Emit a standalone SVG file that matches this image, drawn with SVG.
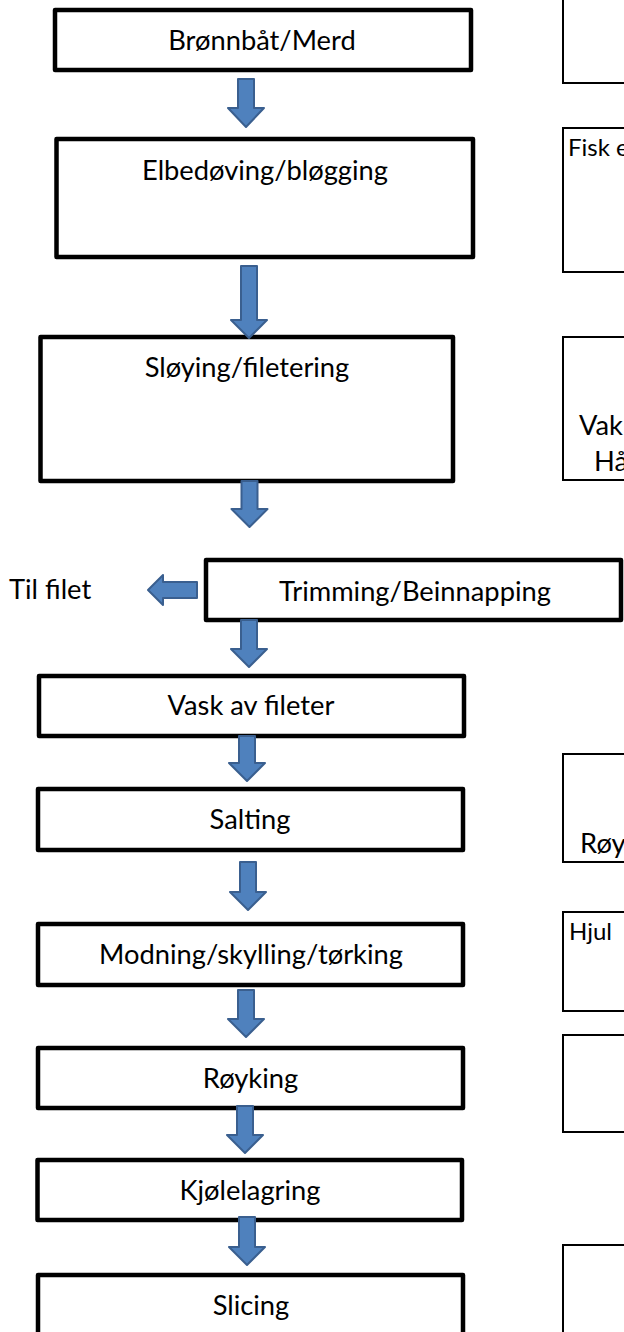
<svg xmlns="http://www.w3.org/2000/svg" width="624" height="1332" viewBox="0 0 624 1332">
<style>
.box{fill:#fff;stroke:#000;stroke-width:4.5;stroke-linejoin:round}
.rbox{fill:#fff;stroke:#000;stroke-width:2}
.t{font-family:Lato,"Open Sans","Liberation Sans",sans-serif;font-size:27.3px;fill:#000}
.s{font-size:24px}
.c{text-anchor:middle}
.arr{fill:#4f81bd;stroke:#3a5f8f;stroke-width:2;stroke-linejoin:round}
</style>
<rect width="624" height="1332" fill="#fff"/>
<g id="n1"><rect class="box" x="55" y="10" width="416" height="60"/><text class="t c" x="262" y="50">Brønnbåt/Merd</text></g>
<g id="n2"><rect class="box" x="56.5" y="139" width="416.5" height="118"/><text class="t c" x="265" y="180">Elbedøving/bløgging</text></g>
<g id="n3"><rect class="box" x="40.5" y="337" width="412.5" height="144"/><text class="t c" x="247" y="377">Sløying/filetering</text></g>
<g id="n4"><rect class="box" x="206" y="560" width="415" height="60"/><text class="t c" x="415" y="601">Trimming/Beinnapping</text></g>
<g id="tilfilet"><text class="t" x="9" y="599">Til filet</text></g>
<g id="n5"><rect class="box" x="39" y="676" width="425" height="60"/><text class="t c" x="251" y="715">Vask av fileter</text></g>
<g id="n6"><rect class="box" x="38" y="789" width="425" height="61"/><text class="t c" x="250" y="829">Salting</text></g>
<g id="n7"><rect class="box" x="38" y="924" width="425" height="61"/><text class="t c" x="251" y="964">Modning/skylling/tørking</text></g>
<g id="n8"><rect class="box" x="38" y="1048" width="425" height="60"/><text class="t c" x="250.5" y="1088">Røyking</text></g>
<g id="n9"><rect class="box" x="37.5" y="1160" width="424.5" height="60"/><text class="t c" x="250" y="1200">Kjølelagring</text></g>
<g id="n10"><rect class="box" x="38" y="1275" width="425" height="80"/><text class="t c" x="251" y="1315">Slicing</text></g>
<g id="r1"><rect class="rbox" x="563" y="-10" width="80" height="93"/></g>
<g id="r2"><rect class="rbox" x="563" y="128" width="80" height="144"/><text class="t s" x="568" y="156">Fisk e</text></g>
<g id="r3"><rect class="rbox" x="563" y="337" width="80" height="143"/><text class="t" x="579" y="435">Vak</text><text class="t" x="594" y="471">Hå</text></g>
<g id="r4"><rect class="rbox" x="563" y="754" width="80" height="108"/><text class="t" x="580" y="853">Røy</text></g>
<g id="r5"><rect class="rbox" x="563" y="912" width="80" height="99"/><text class="t s" x="569" y="940">Hjul</text></g>
<g id="r6"><rect class="rbox" x="563" y="1035" width="80" height="97"/></g>
<g id="r7"><rect class="rbox" x="563" y="1245" width="80" height="100"/></g>
<g id="connectors">
<path class="arr" d="M238,79 H254 V108 H264 L246,127 L228,108 H238 Z"/>
<path class="arr" d="M241,266 H257 V320 H267 L249,338 L231,320 H241 Z"/>
<path class="arr" d="M241.5,481 H257.5 V509 H267.5 L249.5,527 L231.5,509 H241.5 Z"/>
<path class="arr" d="M241,620 H257 V649 H267 L249,667 L231,649 H241 Z"/>
<path class="arr" d="M239,736 H255 V763 H265 L247,781 L229,763 H239 Z"/>
<path class="arr" d="M240,862 H256 V892 H266 L248,910 L230,892 H240 Z"/>
<path class="arr" d="M238,990 H254 V1019 H264 L246,1037 L228,1019 H238 Z"/>
<path class="arr" d="M237,1106 H253 V1135 H263 L245,1153 L227,1135 H237 Z"/>
<path class="arr" d="M239,1217 H255 V1247 H265 L247,1265 L229,1247 H239 Z"/>
<path class="arr" d="M197,582 V598 H163 V605 L148,590 L163,575 V582 Z"/>
</g>
</svg>
